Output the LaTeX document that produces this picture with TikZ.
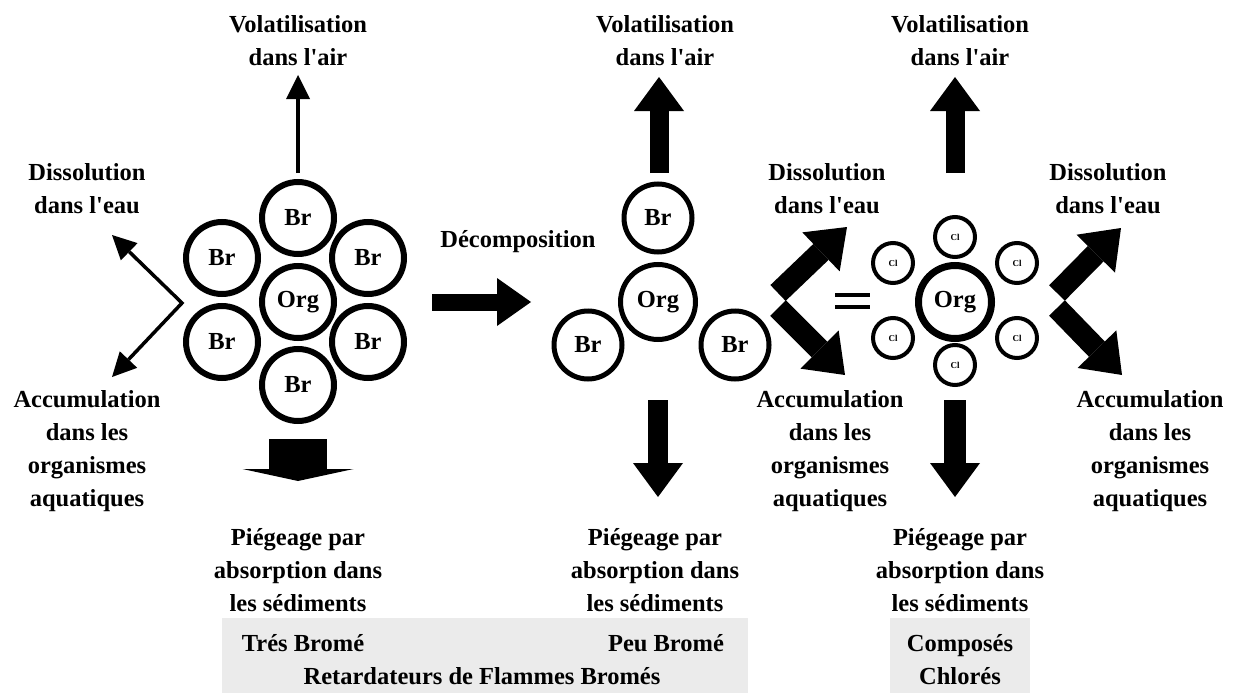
\documentclass[tikz,border=0pt]{standalone}
\usepackage{fontspec}
\setmainfont{Liberation Serif}
\usetikzlibrary{arrows.meta}

\newcommand{\lblfont}{\bfseries\fontsize{24.5}{33}\selectfont}
\newcommand{\apo}{\textquotesingle}

\begin{document}
\begin{tikzpicture}[x=1pt,y=-1pt,
    atom/.style={circle,draw,line width=6pt,minimum size=72pt,inner sep=0pt,font=\lblfont},
    clatom/.style={circle,draw,line width=4pt,minimum size=40pt,inner sep=0pt,font=\bfseries\fontsize{9}{9}\selectfont},
    lab/.style={align=center,font=\lblfont,inner sep=0pt},
    thinarr/.style={line width=3.5pt,-{Triangle[width=24pt,length=24pt,line width=0pt]}},
    blockarr/.style={line width=19pt,-{Triangle[width=50pt,length=34pt,line width=0pt]}},
    vee/.style={line width=22pt,-{Triangle[width=54pt,length=36pt,line width=0pt]}}]
    \useasboundingbox (0,0) rectangle (1234,693);
    % grey boxes at the bottom
    \fill[black!8] (222,618) rectangle (748,693);
    \fill[black!8] (890,618) rectangle (1030,693);

    % very brominated compound
    \node[atom] (org1) at (298,302) {Org};
    \node[atom] (br1a) at (298,218) {Br};
    \node[atom] (br1b) at (222,258) {Br};
    \node[atom] (br1c) at (368,258) {Br};
    \node[atom] (br1d) at (222,342) {Br};
    \node[atom] (br1e) at (368,342) {Br};
    \node[atom] (br1f) at (298,385) {Br};
    \coordinate (up1s) at (298,173);
    \coordinate (up1e) at (298,75);
    \draw[thinarr] (up1s) -- (up1e);
    \coordinate (v1) at (182,303);
    \coordinate (v1a) at (112,235);
    \coordinate (v1b) at (112,377);
    \draw[line width=3.5pt,{Triangle[width=24pt,length=24pt,line width=0pt]}-{Triangle[width=24pt,length=24pt,line width=0pt]}] (v1a) -- (v1) -- (v1b);
    \coordinate (dn1s) at (298,439);
    \coordinate (dn1e) at (298,481);
    \draw[line width=58pt,-{Triangle[width=111pt,length=12pt,line width=0pt]}] (dn1s) -- (dn1e);

    % decomposition
    \coordinate (dcs) at (432,302);
    \coordinate (dce) at (531,302);
    \draw[line width=17pt,-{Triangle[width=48pt,length=34pt,line width=0pt]}] (dcs) -- (dce);
    \node[lab] (deco) at (518,242) {D\'ecomposition};

    % little brominated compound
    \begin{scope}[atom/.append style={line width=5pt}]
        \node[atom,minimum size=75pt] (org2) at (658,302) {Org};
        \node[atom,minimum size=68pt] (br2a) at (658,218) {Br};
        \node[atom,minimum size=68pt] (br2b) at (588,345) {Br};
        \node[atom,minimum size=68pt] (br2c) at (735,345) {Br};
    \end{scope}
    \coordinate (up2s) at (659,173);
    \coordinate (up2e) at (659,77);
    \draw[blockarr] (up2s) -- (up2e);
    \coordinate (dn2s) at (658,400);
    \coordinate (dn2e) at (658,497);
    \draw[blockarr,line width=20pt] (dn2s) -- (dn2e);
    \coordinate (v2a) at (778,293);
    \coordinate (v2b) at (778,308);
    \coordinate (v2c) at (847,227);
    \coordinate (v2d) at (845,375);
    \draw[vee] (v2a) -- (v2c);
    \draw[vee] (v2b) -- (v2d);

    % equals sign
    \draw[line width=4pt] (835,295) -- (870,295);
    \draw[line width=4pt] (835,307) -- (870,307);

    % chlorinated compound
    \node[atom,line width=7pt,minimum size=73pt] (org3) at (955,302) {Org};
    \foreach \nm/\px/\py in {a/955/237, b/893/263, c/1017/263, d/893/338, e/1017/338, f/955/365}
        \node[clatom] (cl\nm) at (\px,\py) {Cl};
    \coordinate (up3s) at (955,173);
    \coordinate (up3e) at (955,77);
    \draw[blockarr] (up3s) -- (up3e);
    \coordinate (dn3s) at (955,400);
    \coordinate (dn3e) at (955,497);
    \draw[blockarr,line width=22pt] (dn3s) -- (dn3e);
    \coordinate (v3a) at (1057,293);
    \coordinate (v3b) at (1057,308);
    \coordinate (v3c) at (1121,228);
    \coordinate (v3d) at (1122,375);
    \draw[vee] (v3a) -- (v3c);
    \draw[vee] (v3b) -- (v3d);

    % labels
    \node[lab] (vol1) at (298,41) {Volatilisation\\dans l\apo air};
    \node[lab] (vol2) at (665,41) {Volatilisation\\dans l\apo air};
    \node[lab] (vol3) at (960,41) {Volatilisation\\dans l\apo air};
    \node[lab] (dis1) at (87,189) {Dissolution\\dans l\apo eau};
    \node[lab] (dis2) at (827,189) {Dissolution\\dans l\apo eau};
    \node[lab] (dis3) at (1108,189) {Dissolution\\dans l\apo eau};
    \node[lab] (acc1) at (87,451) {Accumulation\\dans les\\organismes\\aquatiques};
    \node[lab] (acc2) at (830,451) {Accumulation\\dans les\\organismes\\aquatiques};
    \node[lab] (acc3) at (1150,451) {Accumulation\\dans les\\organismes\\aquatiques};
    \node[lab] (pie1) at (298,570) {Pi\'egeage par\\absorption dans\\les s\'ediments};
    \node[lab] (pie2) at (655,570) {Pi\'egeage par\\absorption dans\\les s\'ediments};
    \node[lab] (pie3) at (960,570) {Pi\'egeage par\\absorption dans\\les s\'ediments};
    \node[lab] (tres) at (303,643) {Tr\'es Brom\'e};
    \node[lab] (peu) at (666,643) {Peu Brom\'e};
    \node[lab] (retard) at (482,676) {Retardateurs de Flammes Brom\'es};
    \node[lab] (chlor) at (960,660) {Compos\'es\\Chlor\'es};
\end{tikzpicture}
\end{document}
